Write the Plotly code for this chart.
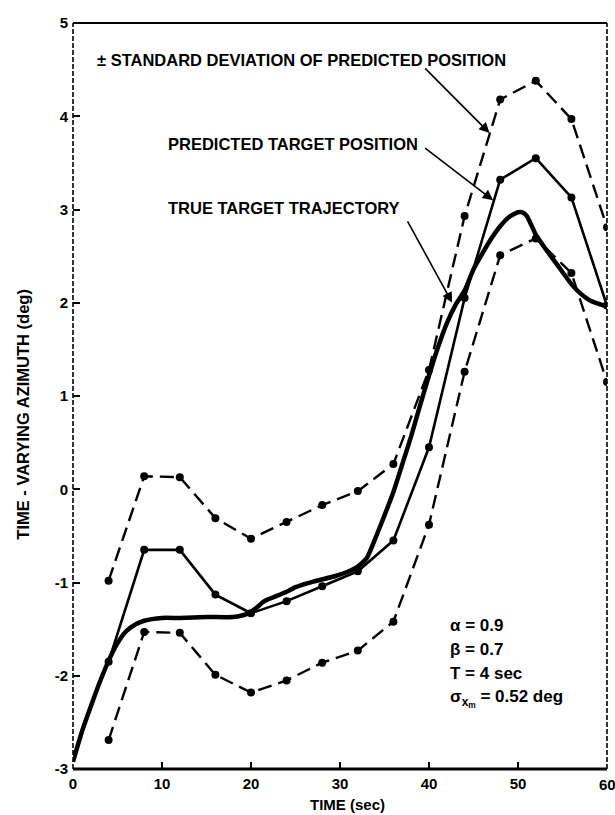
import plotly.graph_objects as go

# Sample times of the alpha-beta tracker (every T = 4 s)
sample_t = [4, 8, 12, 16, 20, 24, 28, 32, 36, 40, 44, 48, 52, 56, 60]

# Predicted target position (deg)
predicted = [-1.85, -0.65, -0.65, -1.13, -1.33, -1.20, -1.04, -0.88, -0.55,
             0.45, 2.05, 3.32, 3.55, 3.13, 1.97]

# Predicted position plus / minus one standard deviation (deg)
upper_sd = [-0.98, 0.14, 0.13, -0.31, -0.53, -0.35, -0.17, -0.02, 0.27,
            1.28, 2.93, 4.18, 4.38, 3.97, 2.81]
lower_sd = [-2.69, -1.53, -1.54, -1.99, -2.18, -2.05, -1.86, -1.73, -1.42,
            -0.38, 1.26, 2.51, 2.69, 2.32, 1.15]

# True target trajectory (deg), continuous curve
true_t = [0, 1, 2, 3, 4, 5, 6, 7, 8, 10, 12, 15, 18, 19.5, 20.5, 21.5, 23,
          24, 25, 27, 29.5, 31, 32, 33, 34, 35, 36, 37, 38, 39, 40, 41, 42,
          43, 44, 45, 46, 47, 48, 49, 50, 50.5, 51, 52, 53, 54, 55, 56, 57,
          58, 59, 60]
true_az = [-2.92, -2.60, -2.33, -2.07, -1.84, -1.65, -1.52, -1.45, -1.41,
           -1.38, -1.38, -1.37, -1.37, -1.34, -1.28, -1.20, -1.14, -1.10,
           -1.05, -0.99, -0.93, -0.88, -0.83, -0.74, -0.52, -0.28, -0.03,
           0.27, 0.57, 0.90, 1.22, 1.52, 1.78, 1.98, 2.13, 2.36, 2.53, 2.69,
           2.82, 2.92, 2.97, 2.97, 2.93, 2.73, 2.59, 2.46, 2.33, 2.20, 2.10,
           2.03, 1.99, 1.96]

x_ticks = [0, 10, 20, 30, 40, 50, 60]
x_ticktext = ["0", "10", "20", "30", "40", "50", "60"]
y_ticks = [-3, -2, -1, 0, 1, 2, 3, 4, 5]
y_ticktext = ["-3", "-2", "-1", "0", "1", "2", "3", "4", "5"]

params = ["α = 0.9", "β = 0.7", "T = 4 sec", "σ<sub>x<sub>m</sub></sub> = 0.52 deg"]
params_y = [-1.46, -1.72, -1.98, -2.24]

FONT = "Liberation Sans, Arial, sans-serif"
INK = "#000000"


def bold(size):
    return dict(family=FONT, size=size, color=INK, weight="bold")


fig = go.Figure()

fig.add_trace(go.Scatter(
    x=sample_t, y=upper_sd, mode="lines+markers",
    line=dict(color=INK, width=2.4, dash="14px,7px"),
    marker=dict(color=INK, size=8), showlegend=False))
fig.add_trace(go.Scatter(
    x=sample_t, y=lower_sd, mode="lines+markers",
    line=dict(color=INK, width=2.4, dash="14px,7px"),
    marker=dict(color=INK, size=8), showlegend=False))
fig.add_trace(go.Scatter(
    x=sample_t, y=predicted, mode="lines+markers",
    line=dict(color=INK, width=2.6),
    marker=dict(color=INK, size=8), showlegend=False))
fig.add_trace(go.Scatter(
    x=true_t, y=true_az, mode="lines",
    line=dict(color=INK, width=4.5, shape="spline", smoothing=0.5),
    showlegend=False))

label_font = bold(16.5)

annotations = [
    # labels with leader arrows
    dict(x=2.5, y=4.60, xref="x", yref="y", xanchor="left", yanchor="middle",
         text="± STANDARD DEVIATION OF PREDICTED POSITION", showarrow=False,
         font=label_font),
    dict(x=46.8, y=3.82, ax=39.4, ay=4.53, xref="x", yref="y", axref="x",
         ayref="y", text="", showarrow=True, arrowhead=2, arrowsize=1.3,
         arrowwidth=1.6, arrowcolor=INK),
    dict(x=10.5, y=3.70, xref="x", yref="y", xanchor="left", yanchor="middle",
         text="PREDICTED TARGET POSITION", showarrow=False, font=label_font),
    dict(x=47.2, y=3.10, ax=39.4, ay=3.67, xref="x", yref="y", axref="x",
         ayref="y", text="", showarrow=True, arrowhead=2, arrowsize=1.3,
         arrowwidth=1.6, arrowcolor=INK),
    dict(x=10.5, y=3.02, xref="x", yref="y", xanchor="left", yanchor="middle",
         text="TRUE TARGET TRAJECTORY", showarrow=False, font=label_font),
    dict(x=42.6, y=2.0, ax=37.5, ay=2.89, xref="x", yref="y", axref="x",
         ayref="y", text="", showarrow=True, arrowhead=2, arrowsize=1.3,
         arrowwidth=1.6, arrowcolor=INK),
    # axis titles
    dict(x=0, y=0.8, xref="paper", yref="y", xshift=-50, textangle=-90,
         xanchor="center", yanchor="middle", showarrow=False,
         text="TIME - VARYING AZIMUTH (deg)", font=bold(16.5)),
    dict(x=30.8, y=0, xref="x", yref="paper", yshift=-35, xanchor="center",
         yanchor="middle", showarrow=False, text="TIME (sec)", font=bold(15)),
    # last x tick label sits on the figure edge, so it is placed by hand
    dict(x=x_ticks[-1], y=0, xref="x", yref="paper", yshift=-5,
         xanchor="center", yanchor="top", showarrow=False,
         text=x_ticktext[-1], font=bold(15)),
]
for txt, yy in zip(params, params_y):
    annotations.append(dict(x=42.1, y=yy, xref="x", yref="y", xanchor="left",
                            yanchor="middle", showarrow=False, text=txt,
                            font=bold(17)))

# plot frame: heavy bottom axis, lighter broken sides
shapes = [
    dict(type="line", xref="paper", yref="paper", x0=0, x1=1, y0=0, y1=0,
         line=dict(color=INK, width=3)),
    dict(type="line", xref="paper", yref="paper", x0=0, x1=1, y0=1, y1=1,
         line=dict(color=INK, width=2)),
    dict(type="line", xref="paper", yref="paper", x0=0, x1=0, y0=0, y1=1,
         line=dict(color=INK, width=1.6, dash="5px,2px")),
    dict(type="line", xref="paper", yref="paper", x0=1, x1=1, y0=0, y1=1,
         line=dict(color=INK, width=1.6, dash="5px,2px")),
]

fig.update_layout(
    width=615, height=815,
    margin=dict(l=73, r=8, t=23, b=46),
    paper_bgcolor="white", plot_bgcolor="white",
    font=dict(family=FONT, color=INK),
    annotations=annotations, shapes=shapes,
    xaxis=dict(range=[0, 60], tickvals=x_ticks[:-1],
               ticktext=x_ticktext[:-1],
               ticks="inside", ticklen=7, tickwidth=1.5, tickcolor=INK,
               showgrid=False, zeroline=False, showline=False,
               ticklabelstandoff=4, tickfont=bold(15)),
    yaxis=dict(range=[-3, 5], tickvals=y_ticks, ticktext=y_ticktext,
               ticks="inside", ticklen=7, tickwidth=1.5, tickcolor=INK,
               showgrid=False, zeroline=False, showline=False,
               ticklabelstandoff=4, tickfont=bold(15)),
)

fig.write_html("out.html")
